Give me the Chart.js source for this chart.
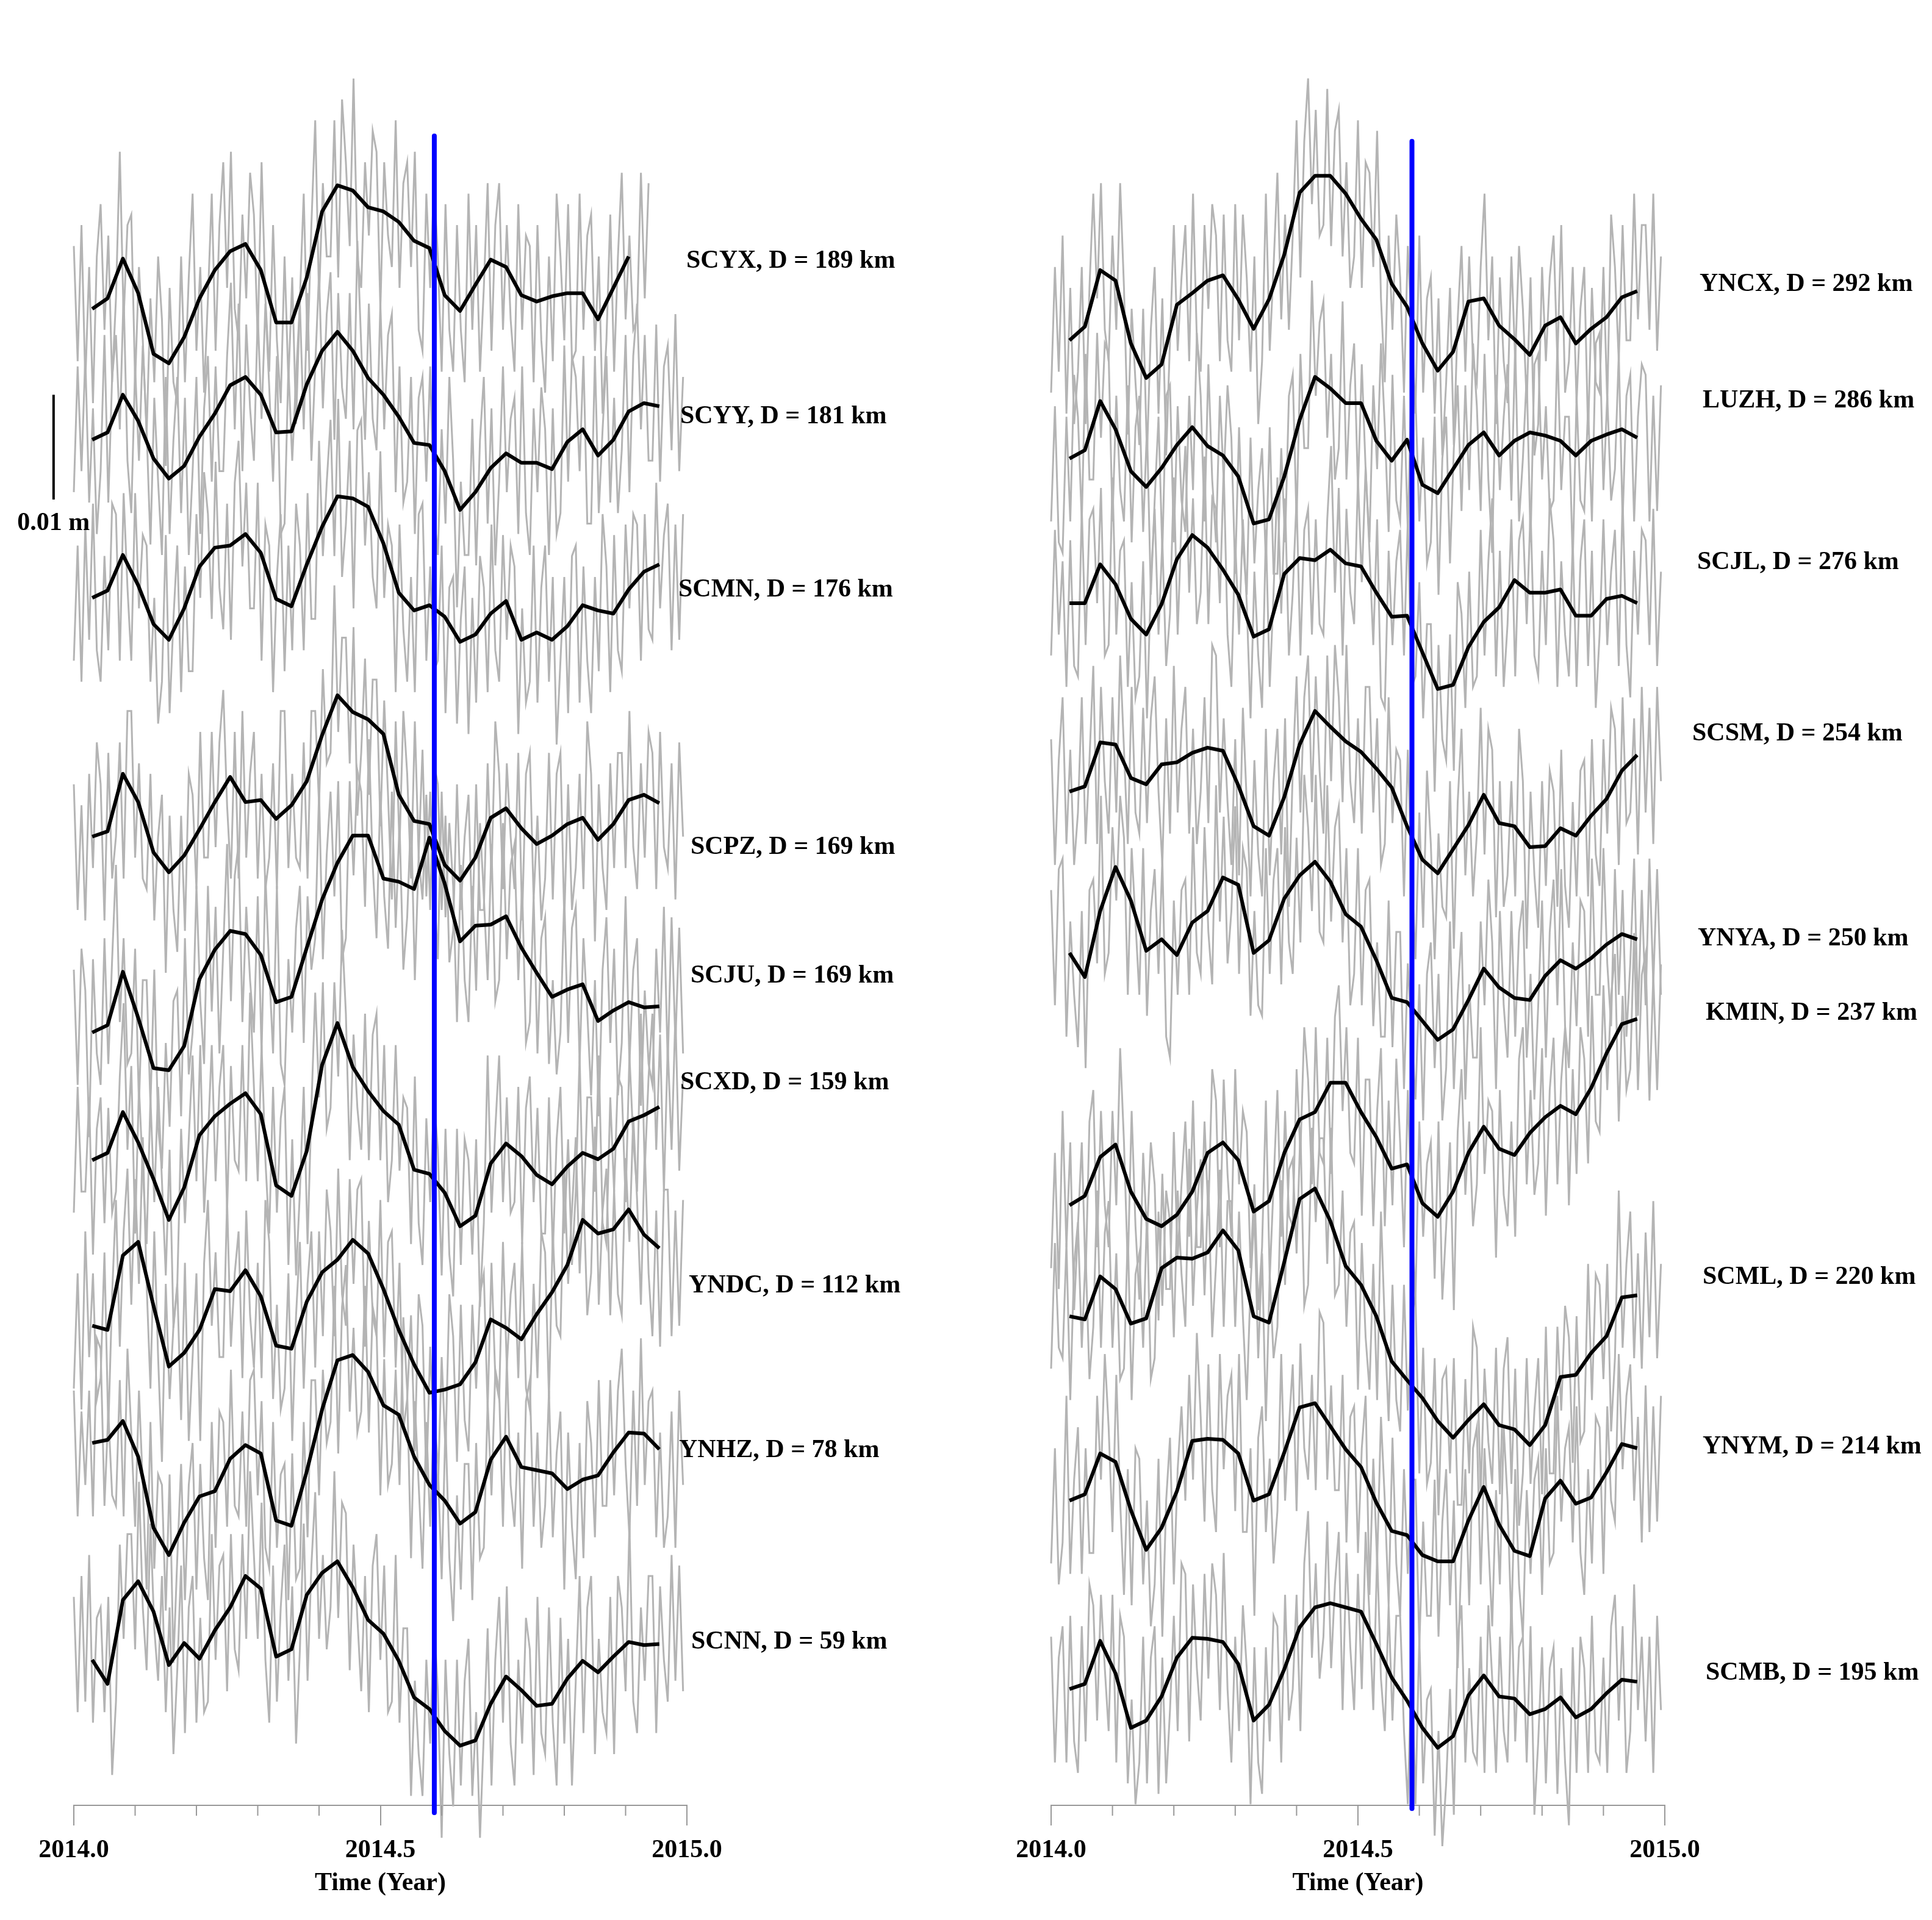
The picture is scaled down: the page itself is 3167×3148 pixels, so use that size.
<!DOCTYPE html>
<html lang="en">
<head>
<meta charset="UTF-8">
<title>GPS stations time series</title>
<script src="https://cdn.jsdelivr.net/npm/chart.js"></script>
<style>
    *{margin:0;padding:0;box-sizing:border-box;}
    body{width:3167px;height:3148px;background:#fff;position:relative;overflow:hidden;}
    canvas{position:absolute;top:0;}
    #leftPanel{left:0;}
    #rightPanel{left:1583px;}
</style>
</head>
<body>
<canvas id="leftPanel" width="1583" height="3148"></canvas>
<canvas id="rightPanel" width="1584" height="3148"></canvas>

<script>
// ---- time axes (decimal years) ----
const smoothStart=2014.03, smoothStep=0.025;   // smoothed curve, ~9 day samples
const rawStart=2014.0, rawStep=1/160;          // raw series, ~2.3 day samples
const eventYear=2014.588;                      // blue marker
const majorTicks=[2014.0,2014.5,2015.0];

// ---- left panel stations ----
const leftNames=['SCYX','SCYY','SCMN','SCPZ','SCJU','SCXD','YNDC','YNHZ','SCNN'];
const leftDist=[189,181,176,169,169,159,112,78,59];
const leftOffsets=[142.9,130.4,115.3,92.5,73.8,61.6,45.8,34.6,13.9]; // mm

// ---- right panel stations ----
const rightNames=['YNCX','LUZH','SCJL','SCSM','YNYA','KMIN','SCML','YNYM','SCMB'];
const rightDist=[292,286,276,254,250,237,220,214,195];
const rightOffsets=[139.9,128.6,114.8,96.8,81.4,57.3,46.7,29.1,11.1]; // mm

// blue marker extent (mm) and 0.01 m scale bar
const leftBlue=[-0.7,159.4];
const rightBlue=[-0.3,158.9];
const scaleBarYear=2013.967;
const scaleBarFrom=124.7, scaleBarLen=10;

// ---- smoothed series (mm) ----
const scyxSmooth=[0,1.0,4.8,1.5,-4.3,-5.2,-2.7,1.0,3.7,5.5,6.2,3.7,-1.3,-1.3,3.0,9.3,11.8,11.3,9.7,9.3,8.3,6.5,5.8,1.3,-0.2,2.3,4.7,4.0,1.3,0.7,1.2,1.5,1.5,-1.0,2.0,5.0];
const scyySmooth=[0,0.7,4.3,1.8,-1.8,-3.7,-2.5,0.3,2.5,5.2,6.0,4.3,0.7,0.8,5.3,8.5,10.3,8.5,5.9,4.3,2.2,-0.3,-0.5,-3.0,-6.7,-5.0,-2.7,-1.3,-2.2,-2.2,-2.8,-0.2,1.0,-1.5,0,2.7,3.5,3.2];
const scmnSmooth=[0,0.7,4.1,1.2,-2.5,-4.0,-1.0,3.0,4.8,5.0,6.1,4.3,-0.1,-0.8,3.2,6.8,9.7,9.5,8.7,5.2,0.5,-1.2,-0.7,-1.8,-4.2,-3.5,-1.5,-0.3,-4.0,-3.3,-4.0,-2.7,-0.7,-1.2,-1.5,0.8,2.5,3.2];
const scpzSmooth=[0,0.5,6.0,3.3,-1.5,-3.4,-1.8,0.7,3.3,5.7,3.3,3.5,1.7,3.0,5.3,9.7,13.5,11.9,11.2,9.8,4.0,1.5,1.2,-2.7,-4.2,-2.0,1.8,2.7,0.8,-0.7,0.1,1.2,1.8,-0.3,1.2,3.5,4.0,3.2];
const scjuSmooth=[0,0.7,5.8,1.4,-3.4,-3.6,-1.3,5.1,7.9,9.7,9.4,7.4,2.9,3.4,8.1,12.7,16.2,18.8,18.8,14.7,14.4,13.7,18.6,14.2,8.7,10.2,10.3,11.1,8.1,5.7,3.4,4.1,4.6,1.1,2.1,2.9,2.4,2.5];
const scxdSmooth=[0,0.7,4.6,1.7,-1.8,-5.7,-2.6,2.4,4.2,5.4,6.4,4.4,-2.4,-3.4,0.9,9.1,13.1,8.9,6.6,4.7,3.4,-0.9,-1.3,-3.1,-6.3,-5.3,-0.3,1.6,0.4,-1.4,-2.3,-0.6,0.7,0.1,1.1,3.7,4.3,5.1];
const yndcSmooth=[0,-0.4,6.7,8.0,1.9,-3.9,-2.6,-0.4,3.5,3.3,5.3,2.8,-1.9,-2.2,2.3,5.1,6.3,8.2,6.9,3.5,-0.4,-3.7,-6.4,-6.1,-5.6,-3.5,0.6,-0.2,-1.3,1.1,3.2,5.8,10.1,8.8,9.2,11.1,8.7,7.4];
const ynhzSmooth=[0,0.3,2.1,-1.3,-8.1,-10.7,-7.6,-5.1,-4.6,-1.5,-0.2,-1.0,-7.4,-7.9,-2.7,3.2,7.9,8.4,6.8,3.6,2.7,-1.3,-4.0,-5.5,-7.7,-6.6,-1.6,0.6,-2.3,-2.6,-2.9,-4.4,-3.5,-3.1,-0.9,1.0,0.9,-0.6];
const scnnSmooth=[0,-2.3,5.7,7.5,4.6,-0.5,1.6,0.1,2.8,5.0,8.0,6.8,0.3,1.0,6.2,8.3,9.4,6.9,3.8,2.5,-0.1,-3.6,-4.7,-6.8,-8.2,-7.7,-4.2,-1.6,-2.9,-4.4,-4.2,-1.8,-0.1,-1.2,0.3,1.7,1.4,1.5];
const yncxSmooth=[0,1.3,6.7,5.7,-0.3,-3.6,-2.3,3.4,4.5,5.7,6.2,3.9,1.1,3.9,8.2,14.1,15.7,15.7,14.0,11.6,9.6,5.4,3.2,-0.3,-2.9,-1.1,3.7,4.0,1.4,0.1,-1.4,1.4,2.2,-0.3,1.1,2.2,4.1,4.7];
const luzhSmooth=[0,0.8,5.5,2.8,-1.2,-2.7,-0.9,1.3,3.0,1.2,0.3,-1.7,-6.2,-5.8,-1.7,3.7,7.8,6.7,5.3,5.3,1.7,-0.2,1.8,-2.5,-3.3,-1.0,1.3,2.5,0.3,1.7,2.5,2.2,1.7,0.3,1.7,2.3,2.8,2.0];
const scjlSmooth=[0,0,3.7,1.8,-1.5,-3.0,-0.1,4.2,6.5,5.3,3.2,0.8,-3.2,-2.5,2.8,4.3,4.1,5.1,3.8,3.5,1.0,-1.3,-1.2,-4.7,-8.2,-7.8,-4.2,-1.8,-0.4,2.2,1.0,1.0,1.3,-1.2,-1.2,0.4,0.7,0];
const scsmSmooth=[0,0.5,4.7,4.5,1.3,0.7,2.6,2.8,3.7,4.2,3.9,0.6,-3.3,-4.2,-0.5,4.5,7.7,6.2,4.8,3.8,2.2,0.4,-3.3,-6.5,-7.8,-5.5,-3.2,-0.3,-3.0,-3.3,-5.3,-5.2,-3.5,-4.2,-2.3,-0.7,2.0,3.5];
const ynyaSmooth=[0,-2.3,4.0,8.2,5.0,0.2,1.3,-0.2,2.9,4.0,7.2,6.5,0,1.2,5.2,7.4,8.7,6.8,3.7,2.5,-0.7,-4.3,-4.7,-6.5,-8.3,-7.3,-4.5,-1.5,-3.3,-4.3,-4.5,-2.2,-0.7,-1.5,-0.5,0.8,1.8,1.3];
const kminSmooth=[0,0.9,4.6,5.8,1.3,-1.3,-2.0,-0.9,1.3,5.0,6.0,4.3,-0.6,0.4,5.0,8.2,8.9,11.7,11.7,8.9,6.5,3.5,3.9,0.2,-1.1,1.3,5.0,7.5,5.4,4.8,6.9,8.4,9.5,8.7,11.2,14.5,17.3,17.8];
const scmlSmooth=[0,-0.3,3.8,2.6,-0.7,-0.2,4.6,5.6,5.5,6.1,8.2,6.3,0,-0.6,5.2,11.2,12.2,9.1,4.8,3.0,0,-4.3,-6.1,-7.8,-10.0,-11.6,-9.9,-8.4,-10.4,-10.8,-12.3,-10.4,-5.8,-5.6,-3.5,-1.9,1.8,2.0];
const ynymSmooth=[0,0.6,4.5,3.7,-0.9,-4.7,-2.6,0.9,5.7,5.9,5.8,4.5,0,0.6,4.6,8.9,9.3,7.1,4.9,3.2,-0.2,-2.9,-3.3,-5.2,-5.8,-5.8,-1.9,1.3,-2.3,-4.8,-5.3,0.2,1.9,-0.3,0.3,2.7,5.4,5.0];
const scmbSmooth=[0,0.5,4.6,1.5,-3.7,-3.0,-0.7,3.0,4.9,4.8,4.5,2.4,-3.0,-1.5,1.9,5.9,7.8,8.2,7.8,7.4,4.3,1.1,-1.1,-3.7,-5.6,-4.5,-0.6,1.3,-0.7,-0.9,-2.4,-1.9,-0.8,-2.7,-1.9,-0.4,0.9,0.7];

// ---- raw series (mm) ----
const scyxRaw=[6,-5,8,-7,4,-9,5,10,-2,7,-7,1,15,-1,8,9,-7,4,-3,-12,1,-7,5,-1,-15,2,-7,-9,5,-7,3,11,-4,4,-8,1,11,-4,8,14,2,15,0,-3,9,1,13,9,-3,14,1,-6,8,-3,-9,5,-7,3,-11,1,11,-4,8,18,1,12,5,5,18,3,20,14,6,22,5,2,14,7,17,15,0,14,7,4,18,2,12,14,4,15,-2,-4,11,2,12,5,-6,10,-2,-6,8,-2,-7,11,-2,8,-6,2,12,-4,8,12,-2,8,-1,-6,10,-2,7,6,-7,8,-3,-8,5,-5,11,5,-3,10,-5,-4,11,-2,7,9,-4,5,-10,-3,9,-6,5,13,-1,7,-2,-1,13,1,12];
const scyyRaw=[-5,7,-3,8,-6,3,-9,-3,10,-6,6,10,1,14,-2,-7,7,-2,9,1,-10,4,-4,-11,6,-9,0,6,-7,4,-11,-3,6,-9,3,8,-4,7,-3,-3,8,15,1,13,-3,11,3,-2,12,2,13,5,-4,8,-9,-8,7,-2,6,13,1,14,-2,7,16,3,12,16,0,14,5,2,14,1,19,9,0,13,2,-1,13,1,10,12,-5,7,-6,-4,6,-9,4,6,-4,7,-7,-11,1,-8,6,-2,-16,-4,-11,-11,2,-12,0,6,-8,3,-12,-4,7,-5,2,4,-9,7,-7,-11,3,-5,5,1,-11,3,-9,-7,9,-4,8,6,-3,8,-8,-8,8,-7,1,8,-6,4,-7,-1,10,-5,8,13,1,10,-2,-2,11,-4,7,9,-1,12,-3,6];
const scmnRaw=[-6,5,-8,7,-4,9,-5,-8,4,-5,9,8,-6,10,1,-6,10,-1,6,5,-8,0,-12,-8,6,-11,-2,5,-9,3,-7,-7,8,0,12,8,-2,13,1,-3,9,-4,11,15,3,11,-1,-1,11,-6,7,5,-9,2,8,-7,5,-5,9,5,-5,10,-2,-2,15,4,11,17,4,19,2,7,15,-1,16,17,5,12,2,-1,14,0,7,5,-9,7,-3,-8,2,-9,8,9,-6,3,-7,-6,5,-11,1,2,-12,-2,3,-13,0,-10,4,1,-9,7,-5,-8,6,-4,5,3,-13,-1,-10,-8,5,-10,1,5,-8,2,-14,-6,2,-11,4,5,-10,3,-6,-11,2,-7,8,3,-9,6,-5,-7,7,-1,8,7,-6,8,-3,-4,11,-1,6,9,-5,7,-4,8];
const scpzRaw=[5,-7,3,-8,6,-3,9,5,-8,8,-4,0,9,-4,12,12,-2,7,-4,-5,6,-8,0,4,-13,2,-7,-11,2,-9,6,4,-5,10,-2,-2,10,-1,9,14,3,-4,10,-4,12,-2,6,10,-4,6,-5,-2,7,-5,12,12,-3,6,-2,-3,9,-4,12,12,3,16,7,8,24,10,19,19,7,20,2,8,17,4,15,15,1,13,4,-6,11,-1,12,6,-4,11,-2,-6,4,-7,7,5,-7,2,-12,-9,5,-7,0,4,-9,5,-7,-7,7,-4,11,6,-5,7,0,-5,8,-8,6,8,-6,2,-8,-4,8,-6,6,8,-8,5,-7,-3,6,-5,11,6,-10,5,-3,-7,7,-3,8,8,-3,12,-1,-5,7,-2,10,8,-5,10,-1,-3,7,-6,9,0];
const scjuRaw=[6,-5,8,4,-10,7,-2,-5,9,-3,7,16,1,9,-3,-2,8,-7,5,5,-7,6,-9,-13,-1,-9,3,4,-8,9,-4,0,14,3,-3,14,2,12,-2,8,18,3,15,18,1,12,5,0,13,-2,15,6,-2,14,-3,-5,7,0,10,14,-1,13,6,9,23,7,17,23,13,24,7,9,24,15,25,23,12,28,16,9,23,13,8,23,10,20,6,11,21,5,17,27,13,23,14,7,23,11,20,14,1,16,5,1,14,4,20,13,5,18,3,5,20,7,16,18,5,14,-1,1,13,-2,9,11,-3,5,-4,0,13,-1,10,12,-3,9,2,-6,5,-8,6,11,-1,8,-6,-1,13,-3,6,9,-7,4,-3,-5,8,0,12,-3,11,-1,10,-2];
const scxdRaw=[-5,7,-3,-3,6,-9,3,6,-6,5,-5,-3,8,15,1,9,-7,7,-1,-8,6,-4,7,-2,-11,1,-16,-12,3,-6,2,10,-2,11,-5,2,11,-2,7,11,-5,9,0,-1,11,-2,16,7,-2,11,0,-7,7,-5,4,7,-10,2,-11,-3,7,-8,5,16,6,17,3,5,17,8,22,14,0,12,5,1,14,0,12,14,0,11,-4,0,11,-1,6,5,-8,8,-6,-10,4,-4,6,1,-11,3,-9,-13,3,-10,2,0,-9,2,-14,-6,10,-5,3,10,-4,6,-5,-4,7,-8,5,8,-4,5,-7,-7,6,-9,2,7,-7,2,-10,-3,10,-6,6,6,-3,10,-6,-8,6,-3,8,7,-4,10,2,-3,14,-1,8,14,1,12,-3,11,1,14,-1,8];
const yndcRaw=[-6,5,-8,9,-3,5,-7,-5,7,-10,3,12,-2,9,15,2,14,4,18,4,-6,9,-3,-13,4,-7,0,4,-9,6,-11,-3,5,-11,6,12,0,7,-3,-3,12,-2,5,9,-5,11,1,-4,6,-5,12,8,-7,2,-8,-6,5,-11,1,8,-6,4,9,-4,9,-1,13,9,-1,15,3,0,14,4,13,14,-2,10,1,-1,12,-3,8,9,-4,6,-10,-7,1,-12,3,0,-15,-2,-11,-16,-3,-12,3,-1,-13,2,-9,-12,2,-6,3,5,-8,6,-5,-7,8,-4,3,6,-5,8,-6,-8,4,-5,9,7,-7,9,0,-1,15,4,11,18,5,13,1,5,19,2,11,15,1,13,3,1,16,8,20,12,2,17,5,-1,11,-2,13,13,-1,11,0,12];
const ynhzRaw=[5,-7,3,-4,5,-7,10,9,-6,3,-5,-6,6,-7,9,1,-8,5,-4,-14,2,-12,-3,-4,-16,-3,-21,-11,-2,-15,-4,0,-14,-2,-11,-15,2,-10,3,2,-8,7,-6,-7,3,-8,6,7,-5,4,-10,-12,2,-10,-3,-2,-15,-1,-13,-12,2,-9,6,6,-5,7,0,2,15,-1,13,17,3,11,1,3,15,1,13,11,-5,8,-4,-2,7,-4,12,5,-11,4,-4,-12,2,-8,3,-2,-13,2,-11,-17,-5,-14,-2,-2,-15,0,-11,-10,4,-5,7,5,-8,8,-4,-8,1,-12,4,6,-8,1,-10,-6,5,-9,-1,3,-14,1,-8,-13,0,-11,4,0,-9,6,-6,-6,6,-5,5,9,-2,-9,5,-6,10,-4,4,5,-9,1,-10,-7,3,-10,5,-4];
const scnnRaw=[6,-5,8,-4,10,-6,4,5,-5,6,-11,-4,11,2,12,12,1,17,5,-1,13,3,-2,8,-5,5,-9,-1,9,-7,5,8,-6,4,-5,-4,12,0,9,10,-3,12,1,-1,12,2,18,10,2,15,0,-6,9,-4,5,11,-2,7,-8,1,13,-2,9,16,2,10,1,5,18,4,15,14,-1,11,4,-3,8,-5,9,12,0,9,-5,-4,10,-6,3,3,-13,-2,-9,-13,0,-8,4,-3,-17,0,-9,-14,0,-12,-2,2,-13,-5,-17,-7,3,-12,0,6,-6,7,-8,-12,0,-8,4,1,-11,6,-7,-9,5,-6,-12,4,-8,2,-12,-2,8,-7,5,8,-9,2,-5,-7,6,-9,8,5,-3,13,-4,-7,5,-2,8,8,-7,7,0,-4,10,-2,9,-3];
const yncxRaw=[-5,7,-3,10,-7,5,-8,-3,7,-8,5,14,4,15,1,-2,10,1,15,5,-9,3,-4,-10,3,-11,1,7,-7,4,-11,0,11,-1,6,11,-2,14,0,-3,11,3,13,10,-2,12,0,-3,13,0,12,6,-3,8,-8,-2,14,-1,7,16,2,12,1,10,21,6,19,25,13,22,10,11,24,9,20,22,8,17,5,8,21,5,17,16,7,20,4,-4,10,1,12,6,-5,9,1,-7,10,-5,4,6,-7,4,-11,-4,5,-10,2,9,-3,8,-2,-4,7,14,0,8,-8,6,-2,-6,8,-2,9,3,-6,6,-11,-8,7,-2,6,10,-2,11,-5,-2,7,-6,3,7,-9,5,-4,-5,7,-6,12,7,-2,11,0,0,14,2,11,11,1,14,-1,8];
const luzhRaw=[-6,5,-8,-9,4,-6,8,4,-6,10,-2,-2,12,2,11,10,-6,6,-3,-6,7,-8,3,6,-7,3,-13,-4,4,-9,6,7,-8,5,-4,-7,6,-3,12,6,-6,9,-2,-8,6,-2,7,2,-11,3,-8,-13,2,-10,-3,1,-10,3,-11,-11,1,-8,6,8,-6,10,1,1,17,6,13,15,2,10,-2,1,15,-2,7,11,-3,9,-1,-8,7,-1,11,3,-7,8,-4,-6,6,-7,8,6,-6,2,-10,-8,4,-13,0,4,-10,1,7,-5,7,-3,11,5,-5,10,-2,-9,8,-3,4,9,-4,11,-6,0,8,-8,9,10,-2,5,-5,-4,11,-3,4,4,-10,6,-4,-5,5,-6,11,12,-3,6,-4,-1,10,-6,6,8,-6,4,9,8,-6,6,-5,7];
const scjlRaw=[-5,7,-3,4,-8,6,-6,-7,9,-4,8,9,0,11,-5,-4,12,-3,5,6,-8,2,-9,-7,4,-11,2,9,-3,6,-6,-1,12,-3,8,15,1,10,-2,1,14,-2,10,9,0,13,-3,-8,6,-3,8,0,-11,3,-5,-10,7,-8,1,12,-1,10,-5,1,10,-5,7,9,-3,8,-2,-3,8,15,1,11,-5,9,1,-2,12,2,13,5,-4,8,-9,-10,5,-4,4,7,-5,8,-8,-7,2,-11,-2,-2,-18,-4,-13,-15,-3,-16,2,-1,-10,3,-8,-7,7,-5,4,10,-7,5,-8,-2,8,-7,6,8,-2,9,-5,-7,5,-4,10,6,-8,4,-3,-7,6,-8,4,8,-6,5,-10,-3,8,-4,3,7,-6,10,-4,-9,5,-3,7,6,-4,9,-6,3];
const scsmRaw=[5,-7,3,9,-5,4,-7,-2,9,-5,3,12,-5,10,1,-4,9,-2,13,4,-5,10,-2,-4,8,-3,7,11,0,-7,7,-4,12,-2,6,10,-4,6,-5,0,9,-3,14,13,-2,7,-1,-7,5,-8,8,-1,-10,3,-6,-10,6,-8,1,6,-6,7,-11,2,11,-2,9,13,-1,11,2,-4,13,1,14,9,-1,14,1,-3,7,-4,10,10,-2,7,-7,-5,9,-3,4,3,-10,4,-8,-16,-2,-13,2,-5,-16,-4,-11,-12,1,-15,-1,6,-8,0,-10,-4,8,-6,6,4,-12,1,-11,-8,1,-10,6,1,-15,0,-8,-13,1,-9,2,0,-11,4,-9,-13,-1,-10,2,3,-10,5,-6,-9,5,-4,8,6,-7,9,-3,-2,7,-6,10,-2,8,-5,10,1];
const ynyaRaw=[6,-5,8,9,-8,3,-4,-9,4,-11,6,7,-1,15,-2,0,12,5,15,11,-4,10,3,-4,10,-6,4,8,-2,9,-8,-10,5,-4,6,7,-4,12,0,-2,12,2,-3,16,3,13,-1,4,14,-2,10,8,-6,4,-5,-6,10,-2,7,10,-3,12,1,-2,11,1,17,12,4,17,2,1,16,3,12,14,1,10,-5,-2,10,-5,6,7,-7,1,-8,-8,5,-9,2,2,-13,-1,-8,-14,-3,-16,-2,1,-11,-2,-16,-11,3,-13,-4,2,-14,-3,-10,-10,3,-5,7,1,-13,4,-5,-10,4,-8,2,5,-10,-2,-14,-5,5,-10,2,7,-5,8,-7,-11,1,-7,5,4,-8,9,-4,-4,10,-1,-7,8,-4,6,-8,-1,9,-6,6,-5,9,-3,8,-4];
const kminRaw=[-6,5,-8,9,-4,6,-10,-2,6,-7,8,11,-4,9,0,-4,9,0,15,6,-6,9,-2,-9,5,-3,6,2,-11,3,-8,-8,7,-5,2,8,-3,10,-4,-4,8,-1,13,10,-4,12,3,-3,13,2,9,7,-6,2,-10,-4,10,-7,2,11,-3,9,-1,-2,13,5,17,12,2,17,5,4,16,3,18,21,9,17,5,4,16,-1,12,12,-2,9,15,-2,10,0,14,6,-4,11,-1,-9,8,-3,4,6,-7,8,-9,-2,6,-10,7,13,1,8,-2,2,17,3,10,9,-5,11,1,-2,8,-3,14,17,2,11,1,4,15,-1,11,16,2,12,17,0,13,3,17,14,4,20,8,7,21,11,20,24,8,20,11,13,26,11,22,24,10,22,11,23];
const scmlRaw=[-5,7,-3,-4,7,-8,5,9,-3,6,-6,-1,12,-3,8,11,-3,6,-6,-5,8,-8,4,6,-3,10,-6,-4,10,1,12,9,-2,12,4,-1,16,1,10,15,2,13,-2,5,14,-1,11,11,-1,10,0,-8,3,10,-4,6,-10,4,-4,-1,13,3,14,15,6,18,1,3,18,9,17,17,5,18,2,3,12,-1,8,9,-7,7,-2,-7,5,-8,10,-1,-10,3,-8,-11,3,-9,0,2,-15,-3,-16,-14,-4,-19,-6,-5,-15,-4,-18,-18,-6,-15,-1,-3,-17,-5,-12,-16,-3,-17,-5,-2,-16,-5,-20,-15,-4,-16,-9,-4,-17,-1,-15,-15,-1,-9,1,-2,-14,0,-12,-11,5,-8,4,3,-6,5,-11,-4,12,-3,5,10,-4,6,-5,8,-2,11,-4,5];
const ynymRaw=[-6,5,-8,-4,10,-7,2,7,-7,5,-5,-5,10,2,14,7,-3,12,0,-9,3,-10,5,4,-8,0,-12,-8,4,-13,0,6,-8,3,9,0,12,2,16,8,-2,13,1,-3,14,3,10,12,-1,14,-3,-3,5,-11,6,9,-3,4,-6,-1,14,0,7,13,-1,15,5,2,12,1,18,17,2,11,1,1,12,-4,8,9,-5,5,10,-9,4,-6,8,0,-10,6,-6,-11,3,-7,2,2,-14,-2,-11,-11,2,-13,-2,3,-10,0,-16,-5,3,-10,5,7,-8,5,-4,-12,1,-8,7,0,-12,3,-8,-13,1,-7,2,4,-9,5,-6,-5,10,-2,5,7,-4,9,-5,-9,3,-6,8,7,-7,9,0,-2,14,3,10,13,0,8,-4,11,-3,9,-2,10];
const scmbRaw=[5,-7,3,6,-7,7,-5,-8,6,-5,10,8,-3,9,2,-4,9,-7,7,5,-9,-1,-11,-7,5,-9,3,6,-10,3,-9,-2,7,-4,12,11,-5,10,2,-3,11,1,12,9,-2,13,0,-7,5,-4,8,2,-11,4,-7,-10,4,-5,7,6,-7,9,-3,0,9,-4,12,17,3,12,1,5,16,2,10,15,-2,13,4,-2,11,0,15,7,-2,13,1,-4,8,-3,7,7,-4,-11,3,-11,5,-9,-1,0,-14,-4,-15,-9,0,-12,5,8,-7,2,-6,-7,5,-8,8,1,-8,5,-4,-7,9,-5,4,5,-7,6,-12,-5,4,-9,2,4,-10,2,-7,-13,4,-8,5,2,-8,7,-6,-7,3,-8,6,9,-3,6,-8,-4,10,-2,5,-5,5,-8,7,-2];

const leftSmooth=[scyxSmooth,scyySmooth,scmnSmooth,scpzSmooth,scjuSmooth,scxdSmooth,yndcSmooth,ynhzSmooth,scnnSmooth];
const leftRaw=[scyxRaw,scyyRaw,scmnRaw,scpzRaw,scjuRaw,scxdRaw,yndcRaw,ynhzRaw,scnnRaw];
const rightSmooth=[yncxSmooth,luzhSmooth,scjlSmooth,scsmSmooth,ynyaSmooth,kminSmooth,scmlSmooth,ynymSmooth,scmbSmooth];
const rightRaw=[yncxRaw,luzhRaw,scjlRaw,scsmRaw,ynyaRaw,kminRaw,scmlRaw,ynymRaw,scmbRaw];

// ---- layout (pixels, page coords) ----
const leftLabelPos=[[1125,428],[1115,683],[1112,967],[1132,1389],[1132,1600],[1115,1775],[1129,2108],[1113,2378],[1133,2692]];
const rightLabelPos=[[2786,466],[2791,657],[2782,922],[2774,1203],[2783,1539],[2796,1661],[2791,2094],[2791,2372],[2796,2743]];
const FONT='"Liberation Serif","Times New Roman",Times,serif';
const MM_MAX=2960/17.17;

function isMajor(v){return majorTicks.some(m=>Math.abs(m-v)<1e-6);}
function toPoints(start,step,vals,offset){return vals.map((v,i)=>({x:start+i*step,y:offset+v}));}

const panelDecor={
    id:'panelDecor',
    afterDraw(chart,args,opts){
        const ctx=chart.ctx, xs=chart.scales.x, ys=chart.scales.y;
        ctx.save();
        // minor ticks
        ctx.strokeStyle='#999';ctx.lineWidth=2;
        xs.ticks.forEach(t=>{
            if(isMajor(t.value))return;
            const px=xs.getPixelForValue(t.value);
            ctx.beginPath();ctx.moveTo(px,xs.top);ctx.lineTo(px,xs.top+17);ctx.stroke();
        });
        // station labels
        ctx.fillStyle='#000';ctx.font='bold 42px '+FONT;
        ctx.textBaseline='middle';ctx.textAlign='left';
        opts.labels.forEach(l=>ctx.fillText(l.text,l.x,l.y));
        if(opts.scaleLabel){
            ctx.textAlign='center';
            ctx.fillText('0.01 m',xs.getPixelForValue(scaleBarYear),ys.getPixelForValue(scaleBarFrom)+39);
        }
        ctx.restore();
    }
};

function makePanel(id,names,dist,offsets,smooth,raw,labelPos,blue,pad,canvasLeft,withScaleBar){
    const datasets=[];
    raw.forEach((r,k)=>datasets.push({data:toPoints(rawStart,rawStep,r,offsets[k]),borderColor:'#b4b4b4',borderWidth:3,pointRadius:0,clip:false,order:3}));
    smooth.forEach((s,k)=>datasets.push({data:toPoints(smoothStart,smoothStep,s,offsets[k]),borderColor:'#000',borderWidth:6,borderJoinStyle:'round',pointRadius:0,clip:false,order:2}));
    datasets.push({data:[{x:eventYear,y:blue[0]},{x:eventYear,y:blue[1]}],borderColor:'#0000ff',borderWidth:8,borderCapStyle:'round',pointRadius:0,clip:false,order:1});
    if(withScaleBar){
        datasets.push({data:[{x:scaleBarYear,y:scaleBarFrom},{x:scaleBarYear,y:scaleBarFrom+scaleBarLen}],borderColor:'#000',borderWidth:4,pointRadius:0,clip:false,order:1});
    }
    const labels=names.map((n,k)=>({text:`${n}, D = ${dist[k]} km`,x:labelPos[k][0]-canvasLeft,y:labelPos[k][1]}));
    return new Chart(document.getElementById(id),{
        type:'line',
        data:{datasets},
        options:{
            responsive:false,animation:false,devicePixelRatio:1,events:[],
            layout:{padding:{left:pad[0],right:pad[1],top:0,bottom:0}},
            plugins:{legend:{display:false},tooltip:{enabled:false},panelDecor:{labels,scaleLabel:withScaleBar}},
            scales:{
                x:{type:'linear',position:'bottom',min:2014,max:2015,
                    ticks:{stepSize:0.1,autoSkip:false,maxRotation:0,padding:16,color:'#000',
                        font:{family:FONT,size:42,weight:'bold'},
                        callback:v=>isMajor(v)?Number(v).toFixed(1):''},
                    grid:{drawOnChartArea:false,drawTicks:true,tickLength:33,lineWidth:2,
                        color:c=>(c.tick&&isMajor(c.tick.value))?'#999':'rgba(0,0,0,0)'},
                    border:{display:true,color:'#999',width:2},
                    title:{display:true,text:'Time (Year)',color:'#000',font:{family:FONT,size:42,weight:'bold'},padding:{top:0,bottom:35}},
                    afterFit:s=>{s.height=188;}
                },
                y:{display:false,min:0,max:MM_MAX}
            }
        },
        plugins:[panelDecor]
    });
}

makePanel('leftPanel',leftNames,leftDist,leftOffsets,leftSmooth,leftRaw,leftLabelPos,leftBlue,[121,457],0,true);
makePanel('rightPanel',rightNames,rightDist,rightOffsets,rightSmooth,rightRaw,rightLabelPos,rightBlue,[140,438],1583,false);
</script>
</body>
</html>
